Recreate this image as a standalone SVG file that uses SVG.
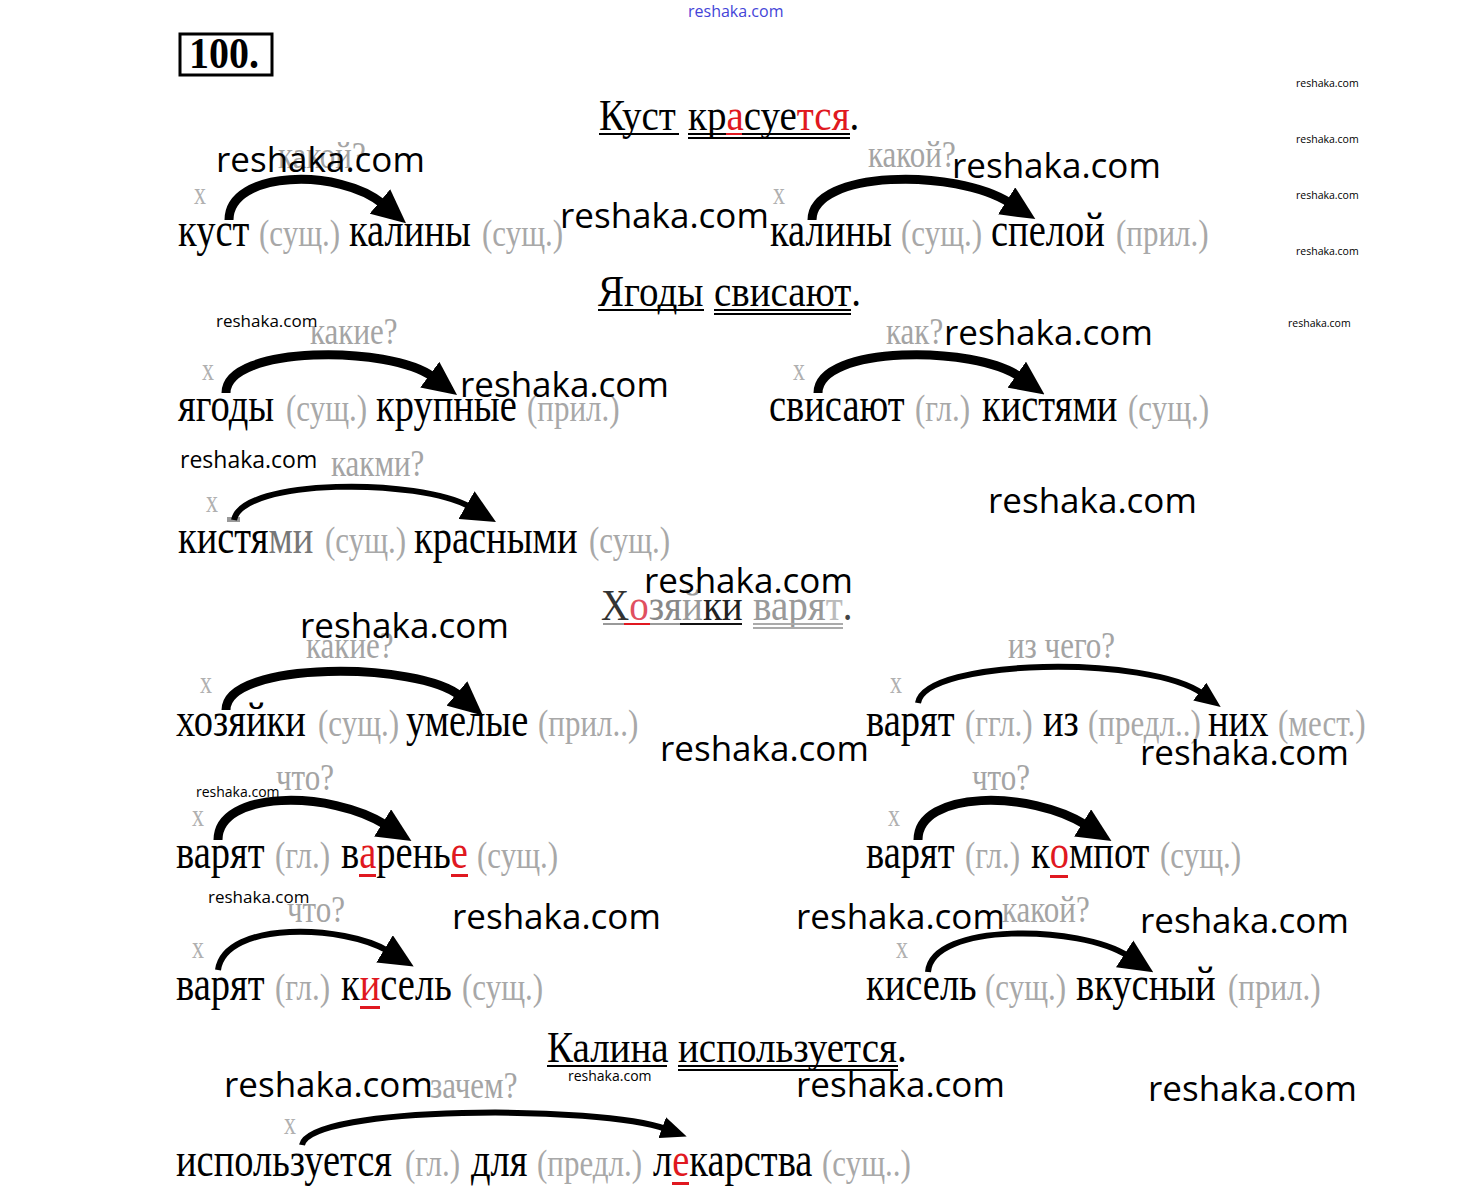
<svg xmlns="http://www.w3.org/2000/svg" width="1471" height="1196" viewBox="0 0 1471 1196">
<style>
.w{font-family:"Liberation Serif",serif;font-size:38.5px;fill:#000}
.g{fill:#a8a8a8;font-size:31px}
.q{font-family:"Liberation Serif",serif;font-size:31px;fill:#a4a4a4}
.x{font-family:"Liberation Serif",serif;font-size:24px;fill:#b0b0b0}
.r{fill:#e01820}
.h{font-family:"Liberation Serif",serif;font-size:39px;fill:#000}
.wm{font-family:"Open Sans",sans-serif;font-size:35px;fill:#000}
.ws{font-family:"Open Sans",sans-serif;fill:#000}
.ul{fill:#000}
.ru{fill:#e01820}
.arc{fill:none;stroke:#000;stroke-width:9;stroke-linecap:butt}
.thin{stroke-width:6}
</style>
<defs>
<marker id="ah" markerUnits="userSpaceOnUse" viewBox="0 0 34 32" markerWidth="34" markerHeight="32" refX="4" refY="16" orient="auto">
<path d="M0,0 L34,16 L0,32 z" fill="#000"/>
</marker>
<marker id="ahs" markerUnits="userSpaceOnUse" viewBox="0 0 26 22" markerWidth="26" markerHeight="22" refX="4" refY="11" orient="auto">
<path d="M0,0 L26,11 L0,22 z" fill="#000"/>
</marker>
</defs>
<rect width="1471" height="1196" fill="#fff"/>

<g id="title">
<rect x="180" y="34" width="92" height="41" fill="none" stroke="#000" stroke-width="3"/>
<text x="189" y="68" font-family="Liberation Serif,serif" font-weight="bold" font-size="40" transform="translate(0 -6.8) scale(1 1.1)">100.</text>
</g>

<g id="s1">
<text class="h" transform="translate(0 130) scale(1 1.15)"><tspan x="599">Куст</tspan><tspan x="688">кр<tspan class="r">а</tspan>суе<tspan class="r">тся</tspan></tspan>.</text>
<rect class="ul" x="599" y="133" width="80" height="2"/>
<rect class="ul" x="688" y="133" width="162" height="2"/>
<rect class="ul" x="688" y="137" width="162" height="2"/>
<rect class="ru" x="726" y="133" width="16" height="2"/>
</g>
<g id="r1l">
<text class="x" transform="translate(194 204) scale(1 1.3)">x</text>
<text class="q" transform="translate(278 168) scale(1 1.25)">какой?</text>
<text class="w" transform="translate(0 246) scale(1 1.25)"><tspan x="178">куст</tspan><tspan class="g" x="259">(сущ.)</tspan><tspan x="349">калины</tspan><tspan class="g" x="482">(сущ.)</tspan></text>
</g>
<g id="r1r">
<text class="x" transform="translate(773 204) scale(1 1.3)">x</text>
<text class="q" transform="translate(868 167) scale(1 1.25)">какой?</text>
<text class="w" transform="translate(0 246) scale(1 1.25)"><tspan x="770">калины</tspan><tspan class="g" x="901">(сущ.)</tspan><tspan x="991">спелой</tspan><tspan class="g" x="1116">(прил.)</tspan></text>
</g>

<g id="s2">
<text class="h" transform="translate(0 306) scale(1 1.15)"><tspan x="598">Ягоды</tspan><tspan x="714">свисают</tspan>.</text>
<rect class="ul" x="598" y="309" width="106" height="2"/>
<rect class="ul" x="714" y="309" width="137" height="2"/>
<rect class="ul" x="714" y="313" width="137" height="2"/>
</g>
<g id="r2l">
<text class="x" transform="translate(202 380) scale(1 1.3)">x</text>
<text class="q" transform="translate(310 344) scale(1 1.25)">какие?</text>
<text class="w" transform="translate(0 421) scale(1 1.25)"><tspan x="178">ягоды</tspan><tspan class="g" x="286">(сущ.)</tspan><tspan x="376">крупные</tspan><tspan class="g" x="527">(прил.)</tspan></text>
</g>
<g id="r2r">
<text class="x" transform="translate(793 380) scale(1 1.3)">x</text>
<text class="q" transform="translate(886 344) scale(1 1.25)">как?</text>
<text class="w" transform="translate(0 421) scale(1 1.25)"><tspan x="769">свисают</tspan><tspan class="g" x="915">(гл.)</tspan><tspan x="982">кистями</tspan><tspan class="g" x="1128">(сущ.)</tspan></text>
</g>
<g id="r3">
<text class="x" transform="translate(206 512) scale(1 1.3)">x</text>
<text class="q" transform="translate(331 476) scale(1 1.25)">какми?</text>
<text class="w" transform="translate(0 553) scale(1 1.25)"><tspan x="178">кистя<tspan fill="#777">ми</tspan></tspan><tspan class="g" x="325">(сущ.)</tspan><tspan x="414">красными</tspan><tspan class="g" x="589">(сущ.)</tspan></text>
<rect x="227" y="517" width="13" height="5" fill="#999"/>
</g>

<g id="s3">
<text class="h" transform="translate(0 620) scale(1 1.15)"><tspan x="601" fill="#333">Х</tspan><tspan fill="#e05060">о</tspan><tspan fill="#888">зя</tspan><tspan fill="#999">й</tspan><tspan fill="#222">ки</tspan><tspan x="753" fill="#999">варя</tspan><tspan fill="#bbb">т</tspan><tspan fill="#444">.</tspan></text>
<rect x="603" y="623" width="139" height="2" fill="#999"/>
<rect class="ru" x="624" y="623" width="26" height="2"/>
<rect x="680" y="623" width="62" height="2" fill="#111"/>
<rect x="753" y="623" width="90" height="2" fill="#aaa"/>
<rect x="753" y="627" width="90" height="2" fill="#aaa"/>
</g>
<g id="r5l">
<text class="x" transform="translate(200 693) scale(1 1.3)">x</text>
<text class="q" transform="translate(306 658) scale(1 1.25)" fill="#bbb">какие?</text>
<text class="w" transform="translate(0 736) scale(1 1.25)"><tspan x="176">хозяйки</tspan><tspan class="g" x="318">(сущ.)</tspan><tspan x="406">умелые</tspan><tspan class="g" x="538">(прил..)</tspan></text>
</g>
<g id="r5r">
<text class="x" transform="translate(890 693) scale(1 1.3)">x</text>
<text class="q" transform="translate(1008 658) scale(1 1.25)" fill="#b4b4b4">из чего?</text>
<text class="w" transform="translate(0 736) scale(1 1.25)"><tspan x="866">варят</tspan><tspan class="g" x="965">(ггл.)</tspan><tspan x="1043">из</tspan><tspan class="g" x="1088">(предл..)</tspan><tspan x="1208">них</tspan><tspan class="g" x="1278">(мест.)</tspan></text>
</g>
<g id="r6l">
<text class="x" transform="translate(192 826) scale(1 1.3)">x</text>
<text class="q" transform="translate(276 790) scale(1 1.25)">что?</text>
<text class="w" transform="translate(0 868) scale(1 1.25)"><tspan x="176">варят</tspan><tspan class="g" x="275">(гл.)</tspan><tspan x="341">в<tspan class="r">а</tspan>рень<tspan class="r">е</tspan></tspan><tspan class="g" x="477">(сущ.)</tspan></text>
<rect class="ru" x="359" y="874" width="17" height="3"/>
<rect class="ru" x="451" y="874" width="17" height="3"/>
</g>
<g id="r6r">
<text class="x" transform="translate(888 826) scale(1 1.3)">x</text>
<text class="q" transform="translate(972 790) scale(1 1.25)">что?</text>
<text class="w" transform="translate(0 868) scale(1 1.25)"><tspan x="866">варят</tspan><tspan class="g" x="965">(гл.)</tspan><tspan x="1031">к<tspan class="r">о</tspan>мпот</tspan><tspan class="g" x="1160">(сущ.)</tspan></text>
<rect class="ru" x="1050" y="875" width="18" height="3"/>
</g>
<g id="r7l">
<text class="x" transform="translate(192 958) scale(1 1.3)">x</text>
<text class="q" transform="translate(287 922) scale(1 1.25)">что?</text>
<text class="w" transform="translate(0 1000) scale(1 1.25)"><tspan x="176">варят</tspan><tspan class="g" x="275">(гл.)</tspan><tspan x="341">к<tspan class="r">и</tspan>сель</tspan><tspan class="g" x="462">(сущ.)</tspan></text>
<rect class="ru" x="360" y="1006" width="20" height="3"/>
</g>
<g id="r7r">
<text class="x" transform="translate(896 958) scale(1 1.3)">x</text>
<text class="q" transform="translate(1002 922) scale(1 1.25)">какой?</text>
<text class="w" transform="translate(0 1000) scale(1 1.25)"><tspan x="866">кисель</tspan><tspan class="g" x="985">(сущ.)</tspan><tspan x="1076">вкусный</tspan><tspan class="g" x="1228">(прил.)</tspan></text>
</g>

<g id="s4">
<text class="h" transform="translate(0 1062) scale(1 1.15)"><tspan x="547">Калина</tspan><tspan x="678">используется</tspan>.</text>
<rect class="ul" x="547" y="1065" width="120" height="2"/>
<rect class="ul" x="678" y="1065" width="220" height="2"/>
<rect class="ul" x="678" y="1069" width="220" height="2"/>
</g>
<g id="r8">
<text class="x" transform="translate(284 1134) scale(1 1.3)">x</text>
<text class="q" transform="translate(430 1098) scale(1 1.25)">зачем?</text>
<text class="w" transform="translate(0 1176) scale(1 1.25)"><tspan x="176">используется</tspan><tspan class="g" x="405">(гл.)</tspan><tspan x="471">для</tspan><tspan class="g" x="537">(предл.)</tspan><tspan x="653">л<tspan class="r">е</tspan>карства</tspan><tspan class="g" x="822">(сущ..)</tspan></text>
<rect class="ru" x="672" y="1182" width="17" height="3"/>
</g>

<g id="connectors">
<path class="arc" d="M229,220 C229,170 340,168 383,204" marker-end="url(#ah)"/>
<path class="arc" d="M812,220 C812,170 955,168 1010,203" marker-end="url(#ah)"/>
<path class="arc" d="M226,393 C226,345 390,345 433,377" marker-end="url(#ah)"/>
<path class="arc" d="M818,393 C818,345 975,345 1020,377" marker-end="url(#ah)"/>
<path class="arc thin" d="M234,520 C242,478 420,478 470,507" marker-end="url(#ah)"/>
<path class="arc" d="M226,710 C226,660 420,662 460,696" marker-end="url(#ah)"/>
<path class="arc thin" d="M918,703 C925,658 1150,655 1203,694" marker-end="url(#ahs)"/>
<path class="arc" d="M218,840 C218,790 330,790 386,825" marker-end="url(#ah)"/>
<path class="arc" d="M918,840 C918,790 1030,790 1086,825" marker-end="url(#ah)"/>
<path class="arc thin" d="M218,970 C225,920 345,925 388,951" marker-end="url(#ah)"/>
<path class="arc thin" d="M928,972 C932,922 1080,925 1128,956" marker-end="url(#ah)"/>
<path class="arc thin" d="M302,1145 C310,1105 600,1105 666,1129" marker-end="url(#ahs)"/>
</g>

<g id="watermarks">
<text x="688" y="17" font-family="Open Sans,sans-serif" font-size="16" fill="#4444d8">reshaka.com</text>
<text class="ws" x="1296" y="87" font-size="10.5">reshaka.com</text>
<text class="ws" x="1296" y="143" font-size="10.5">reshaka.com</text>
<text class="ws" x="1296" y="199" font-size="10.5">reshaka.com</text>
<text class="ws" x="1296" y="255" font-size="10.5">reshaka.com</text>
<text class="ws" x="1288" y="327" font-size="10.5">reshaka.com</text>
<text class="ws" x="216" y="327" font-size="17">reshaka.com</text>
<text class="ws" x="180" y="468" font-size="23">reshaka.com</text>
<text class="ws" x="196" y="797" font-size="14">reshaka.com</text>
<text class="ws" x="208" y="903" font-size="17">reshaka.com</text>
<text class="ws" x="568" y="1081" font-size="14">reshaka.com</text>
<text class="wm" x="216" y="172">reshaka.com</text>
<text class="wm" x="560" y="228">reshaka.com</text>
<text class="wm" x="952" y="178">reshaka.com</text>
<text class="wm" x="460" y="397">reshaka.com</text>
<text class="wm" x="944" y="345">reshaka.com</text>
<text class="wm" x="988" y="513">reshaka.com</text>
<text class="wm" x="644" y="593">reshaka.com</text>
<text class="wm" x="300" y="638">reshaka.com</text>
<text class="wm" x="660" y="761">reshaka.com</text>
<text class="wm" x="1140" y="765">reshaka.com</text>
<text class="wm" x="452" y="929">reshaka.com</text>
<text class="wm" x="796" y="929">reshaka.com</text>
<text class="wm" x="1140" y="933">reshaka.com</text>
<text class="wm" x="224" y="1097">reshaka.com</text>
<text class="wm" x="796" y="1097">reshaka.com</text>
<text class="wm" x="1148" y="1101">reshaka.com</text>
</g>
</svg>
